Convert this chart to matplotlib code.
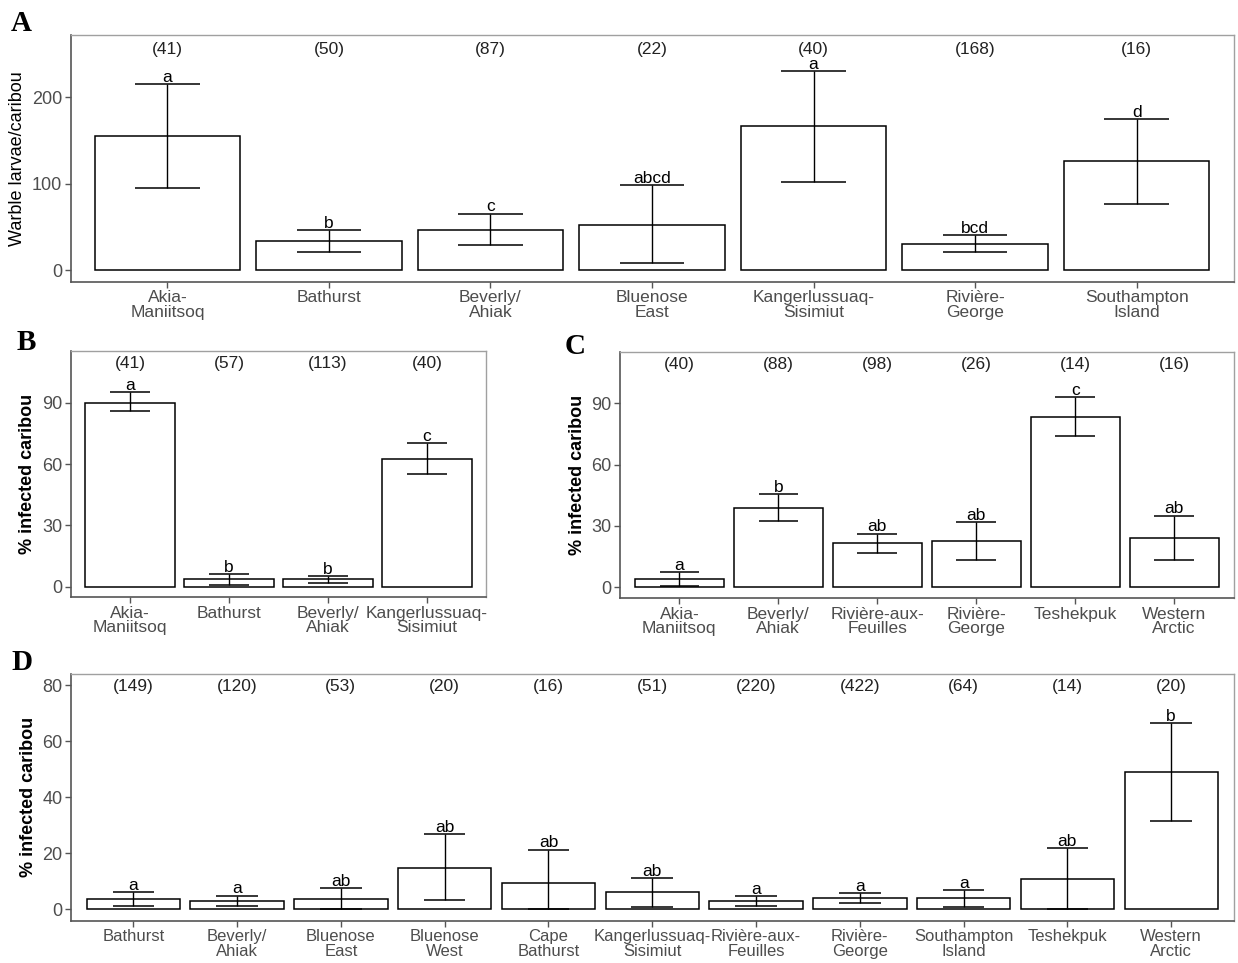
import matplotlib
matplotlib.use("Agg")
import matplotlib.pyplot as plt
import numpy as np

plt.rcParams['font.family'] = ['Liberation Sans', 'DejaVu Sans']

# ---------------- Data ----------------
A_groups = ["Akia-\nManiitsoq", "Bathurst", "Beverly/\nAhiak", "Bluenose\nEast",
            "Kangerlussuaq-\nSisimiut", "Rivière-\nGeorge", "Southampton\nIsland"]
A_mean = [155.6, 33.6, 46.7, 52.1, 167.2, 30.1, 126.3]
A_lo = [95.7, 20.9, 29.0, 8.1, 102.7, 20.9, 77.2]
A_hi = [215.5, 46.7, 65.6, 98.5, 231.0, 40.6, 174.5]
A_n = [41, 50, 87, 22, 40, 168, 16]
A_let = ["a", "b", "c", "abcd", "a", "bcd", "d"]

B_groups = ["Akia-\nManiitsoq", "Bathurst", "Beverly/\nAhiak", "Kangerlussuaq-\nSisimiut"]
B_mean = [90.0, 3.6, 3.6, 62.4]
B_lo = [85.9, 1.0, 2.0, 55.0]
B_hi = [95.2, 6.0, 5.4, 70.4]
B_n = [41, 57, 113, 40]
B_let = ["a", "b", "b", "c"]

C_groups = ["Akia-\nManiitsoq", "Beverly/\nAhiak", "Rivière-aux-\nFeuilles", "Rivière-\nGeorge",
            "Teshekpuk", "Western\nArctic"]
C_mean = [3.9, 39.0, 21.7, 22.8, 83.5, 24.1]
C_lo = [0.8, 32.6, 16.6, 13.4, 74.2, 13.4]
C_hi = [7.3, 45.5, 26.3, 32.1, 92.9, 35.1]
C_n = [40, 88, 98, 26, 14, 16]
C_let = ["a", "b", "ab", "ab", "c", "ab"]

D_groups = ["Bathurst", "Beverly/\nAhiak", "Bluenose\nEast", "Bluenose\nWest", "Cape\nBathurst",
            "Kangerlussuaq-\nSisimiut", "Rivière-aux-\nFeuilles", "Rivière-\nGeorge",
            "Southampton\nIsland", "Teshekpuk", "Western\nArctic"]
D_mean = [3.6, 2.9, 3.6, 14.7, 9.3, 6.1, 2.9, 3.9, 3.9, 10.8, 49.1]
D_lo = [1.3, 1.0, 0.0, 3.2, 0.0, 0.7, 1.3, 2.1, 0.7, 0.0, 31.4]
D_hi = [6.1, 4.9, 7.5, 26.8, 21.3, 11.2, 4.6, 5.7, 6.9, 22.0, 66.5]
D_n = [149, 120, 53, 20, 16, 51, 220, 422, 64, 14, 20]
D_let = ["a", "a", "ab", "ab", "ab", "ab", "a", "a", "a", "ab", "b"]

W, H = 1238, 963
fig = plt.figure(figsize=(W / 100, H / 100), dpi=100)


def box(l, r, t, b):
    return [l / W, (H - b) / H, (r - l) / W, (b - t) / H]


GRAY = "#4D4D4D"


def panel(rect, groups, mean, lo, hi, n, let, ylim, yticks, ylabel, nlab_y, bold_lab, letter,
          letter_xy, xfs=12.5):
    ax = fig.add_axes(rect)
    x = np.arange(len(groups))
    ax.bar(x, mean, width=0.9, color="white", edgecolor="black", linewidth=1.1, zorder=2)
    mean_a = np.array(mean)
    lo_a = np.array(lo)
    hi_a = np.array(hi)
    ax.errorbar(x, mean_a, yerr=[mean_a - lo_a, hi_a - mean_a], fmt="none", ecolor="black",
                elinewidth=1.0, capsize=0, zorder=3)
    ax.hlines(lo_a, x - 0.2, x + 0.2, color="black", linewidth=1.1, zorder=3)
    ax.hlines(hi_a, x - 0.2, x + 0.2, color="black", linewidth=1.1, zorder=3)
    for xi, h, l in zip(x, hi_a, let):
        ax.annotate(l, (xi, h), xytext=(0, 1.5), textcoords="offset points",
                    ha="center", va="baseline", fontsize=12.5, color="black", zorder=4)
    for xi, nn in zip(x, n):
        ax.text(xi, nlab_y, f"({nn})", ha="center", va="center", fontsize=12.5, color="#222222")
    ax.set_xlim(-0.6, len(groups) - 0.4)
    ax.set_ylim(*ylim)
    ax.set_yticks(yticks)
    ax.set_xticks(x)
    ax.set_xticklabels(groups, fontsize=xfs, color=GRAY, linespacing=0.95)
    ax.tick_params(axis="y", labelsize=13, labelcolor=GRAY)
    ax.tick_params(length=4, width=1.0, color="#555555", pad=2)
    ax.set_ylabel(ylabel, fontsize=13, fontweight="bold" if bold_lab else "normal",
                  color="black", labelpad=4)
    for s in ["top", "right"]:
        ax.spines[s].set_color("#A0A0A0")
        ax.spines[s].set_linewidth(1.0)
    for s in ["left", "bottom"]:
        ax.spines[s].set_color("#555555")
        ax.spines[s].set_linewidth(1.2)
    fig.text(letter_xy[0] / W, 1 - letter_xy[1] / H, letter, family="Liberation Serif",
             fontweight="bold", fontsize=21, ha="left", va="baseline")
    return ax


panel(box(70.5, 1233.5, 34.7, 282), A_groups, A_mean, A_lo, A_hi, A_n, A_let,
      (-13.6, 272.6), [0, 100, 200], "Warble larvae/caribou", 255, False, "A", (11, 31))
panel(box(70.6, 486.4, 351, 597.3), B_groups, B_mean, B_lo, B_hi, B_n, B_let,
      (-5.2, 115.3), [0, 30, 60, 90], "% infected caribou", 109.2, True, "B", (17, 350))
panel(box(620, 1233.5, 351.7, 598.3), C_groups, C_mean, C_lo, C_hi, C_n, C_let,
      (-5.4, 115.3), [0, 30, 60, 90], "% infected caribou", 108.8, True, "C", (565, 354))
panel(box(71, 1233.5, 673.7, 921), D_groups, D_mean, D_lo, D_hi, D_n, D_let,
      (-4.2, 84.1), [0, 20, 40, 60, 80], "% infected caribou", 79.4, True, "D", (11, 670),
      xfs=12)

fig.savefig("out.png", dpi=100)
